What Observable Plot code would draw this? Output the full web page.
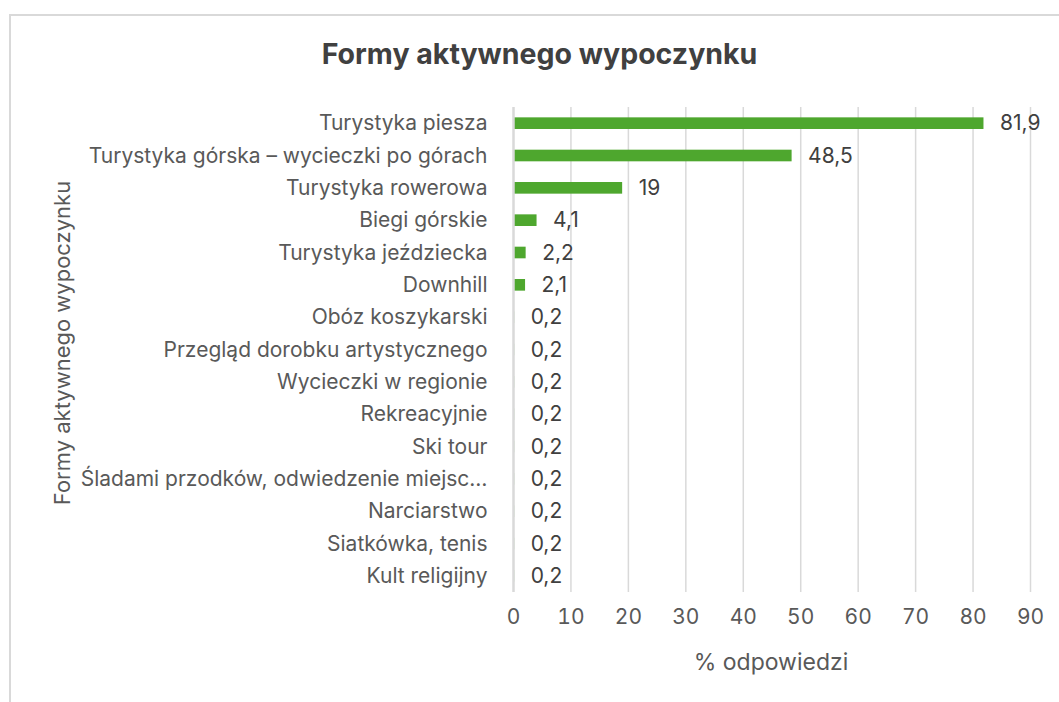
<!DOCTYPE html>
<html>
<head>
<meta charset="utf-8">
<script src="https://cdn.jsdelivr.net/npm/d3@7"></script>
<script src="https://cdn.jsdelivr.net/npm/@observablehq/plot@0.6"></script>
<style>
  html, body { margin: 0; padding: 0; background: #fff; }
  body { width: 1059px; height: 702px; position: relative; overflow: hidden; font-family: Inter, sans-serif; }
  #frame { position: absolute; left: 9px; top: 14px; width: 1100px; height: 800px; border-left: 2px solid #d9d9d9; border-top: 2px solid #d9d9d9; }
  #title { position: absolute; left: 0; width: 1079px; top: 37px; text-align: center; font-size: 28.5px; font-weight: bold; color: #404040; line-height: 34px; }
  #ylabel { position: absolute; left: 62px; top: 343px; transform: translate(-50%, -50%) rotate(-90deg); white-space: nowrap; font-size: 22px; color: #595959; }
  #xlabel { position: absolute; left: 771px; top: 662px; transform: translate(-50%, -50%); white-space: nowrap; font-size: 23px; color: #595959; }
  #chart { position: absolute; left: 0; top: 0; }
</style>
</head>
<body>
<div id="frame"></div>
<div id="chart"></div>
<div id="title">Formy aktywnego wypoczynku</div>
<div id="ylabel">Formy aktywnego wypoczynku</div>
<div id="xlabel">% odpowiedzi</div>
<script>
const categories = [
  "Turystyka piesza",
  "Turystyka górska – wycieczki po górach",
  "Turystyka rowerowa",
  "Biegi górskie",
  "Turystyka jeździecka",
  "Downhill",
  "Obóz koszykarski",
  "Przegląd dorobku artystycznego",
  "Wycieczki w regionie",
  "Rekreacyjnie",
  "Ski tour",
  "Śladami przodków, odwiedzenie miejsc…",
  "Narciarstwo",
  "Siatkówka, tenis",
  "Kult religijny"
];
const values = [81.9, 48.5, 19, 4.1, 2.2, 2.1, 0.2, 0.2, 0.2, 0.2, 0.2, 0.2, 0.2, 0.2, 0.2];
const xTicks = [0, 10, 20, 30, 40, 50, 60, 70, 80, 90];

const data = categories.map((c, i) => ({category: c, value: values[i]}));
const fmt = v => String(v).replace(".", ",");

const chart = Plot.plot({
  width: 1059,
  height: 702,
  marginLeft: 513,
  marginRight: 29,
  marginTop: 107,
  marginBottom: 110,
  style: {fontFamily: "Inter, sans-serif", fontSize: "21px", color: "#595959", background: "transparent"},
  x: {domain: [0, 90], ticks: xTicks, tickFormat: d => String(d), tickSize: 0, tickPadding: 17, label: null},
  y: {domain: categories, paddingInner: 0.64, paddingOuter: 0.32, round: false, tickSize: 0, tickPadding: 26, label: null},
  marks: [
    Plot.ruleX(xTicks.filter(t => t > 0), {stroke: "#d9d9d9", strokeWidth: 1.5, strokeOpacity: 1}),
    Plot.barX(data, {x: "value", y: "category", fill: "#4ea72e"}),
    Plot.ruleX([0], {stroke: "#d9d9d9", strokeWidth: 2.5, strokeOpacity: 1}),
    Plot.text(data, {x: "value", y: "category", text: d => fmt(d.value), dx: 16, textAnchor: "start", fill: "#404040", fontSize: 21})
  ]
});
document.getElementById("chart").appendChild(chart);
</script>
</body>
</html>
